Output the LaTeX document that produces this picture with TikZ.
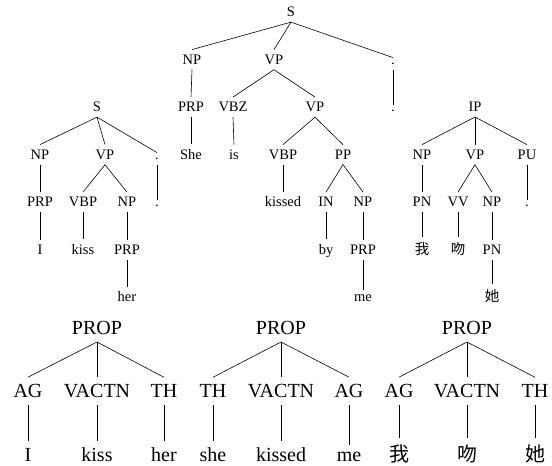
\documentclass[tikz,border=0pt]{standalone}
\usepackage{fontspec}
\setmainfont{Liberation Serif}
\newfontfamily\tms{Liberation Serif}
\newfontfamily\cjk{Noto Sans CJK SC}
\begin{document}
\begin{tikzpicture}[x=1pt,y=-1pt,
  syn/.style={anchor=base, font=\tms\fontsize{14.5}{16}\selectfont, inner sep=5pt},
  sem/.style={anchor=base, font=\tms\fontsize{20}{22}\selectfont, inner sep=7pt},
  edge/.style={line width=0.6pt}]
\useasboundingbox (0,0) rectangle (552,466);

% ---- English passive parse: She is kissed by me .
\node[syn] (mS)      at (291,16.8)  {S};
\node[syn] (mNP)     at (192,64.3)  {NP};
\node[syn] (mVP)     at (274,64.3)  {VP};
\node[syn] (mPu)     at (393,64.3)  {.};
\node[syn] (mPRP)    at (191,111.8) {PRP};
\node[syn] (mVBZ)    at (233,111.8) {VBZ};
\node[syn] (mVPb)    at (315,111.8) {VP};
\node[syn] (mPuW)    at (393,111.8) {.};
\node[syn] (mShe)    at (191,159.3) {She};
\node[syn] (mis)     at (234,159.3) {is};
\node[syn] (mVBP)    at (283,159.3) {VBP};
\node[syn] (mPP)     at (343,159.3) {PP};
\node[syn] (mkissed) at (283,206.8) {kissed};
\node[syn] (mIN)     at (326,206.8) {IN};
\node[syn] (mNPb)    at (363,206.8) {NP};
\node[syn] (mby)     at (326,254.3) {by};
\node[syn] (mPRPb)   at (363,254.3) {PRP};
\node[syn] (mme)     at (363,301.8) {me};

\foreach \a/\b in {mS/mNP, mS/mVP, mS/mPu, mNP/mPRP, mVP/mVBZ, mVP/mVPb,
                   mPu/mPuW, mPRP/mShe, mVBZ/mis, mVPb/mVBP, mVPb/mPP,
                   mVBP/mkissed, mPP/mIN, mPP/mNPb, mIN/mby, mNPb/mPRPb,
                   mPRPb/mme}
  \draw[edge] (\a.south) -- (\b.north);

% ---- English active parse: I kiss her .
\node[syn] (lS)    at (97,111.8)  {S};
\node[syn] (lNP)   at (40,159.3)  {NP};
\node[syn] (lVP)   at (105,159.3) {VP};
\node[syn] (lPu)   at (157,159.3) {.};
\node[syn] (lPRP)  at (40,206.8)  {PRP};
\node[syn] (lVBP)  at (83,206.8)  {VBP};
\node[syn] (lNPb)  at (127,206.8) {NP};
\node[syn] (lPuW)  at (157,206.8) {.};
\node[syn] (lI)    at (40,254.3)  {I};
\node[syn] (lkiss) at (83,254.3)  {kiss};
\node[syn] (lPRPb) at (127,254.3) {PRP};
\node[syn] (lher)  at (127,301.8) {her};

\foreach \a/\b in {lS/lNP, lS/lVP, lS/lPu, lNP/lPRP, lVP/lVBP, lVP/lNPb,
                   lPu/lPuW, lPRP/lI, lVBP/lkiss, lNPb/lPRPb, lPRPb/lher}
  \draw[edge] (\a.south) -- (\b.north);

% ---- Chinese parse
\node[syn] (cIP)   at (475,111.8) {IP};
\node[syn] (cNP)   at (422,159.3) {NP};
\node[syn] (cVP)   at (475,159.3) {VP};
\node[syn] (cPU)   at (527,159.3) {PU};
\node[syn] (cPN)   at (422,206.8) {PN};
\node[syn] (cVV)   at (458,206.8) {VV};
\node[syn] (cNPb)  at (492,206.8) {NP};
\node[syn] (cPuW)  at (527,206.8) {.};
\node[syn] (cwo)   at (422,254.3) {\cjk 我};
\node[syn] (cwen)  at (458,254.3) {\cjk 吻};
\node[syn] (cPNb)  at (492,254.3) {PN};
\node[syn] (cta)   at (492,301.8) {\cjk 她};

\foreach \a/\b in {cIP/cNP, cIP/cVP, cIP/cPU, cNP/cPN, cVP/cVV, cVP/cNPb,
                   cPU/cPuW, cPN/cwo, cVV/cwen, cNPb/cPNb, cPNb/cta}
  \draw[edge] (\a.south) -- (\b.north);

% ---- Proposition structures
\node[sem] (pA)   at (97,334.6)  {PROP};
\node[sem] (pAa)  at (28,397.6)  {AG};
\node[sem] (pAb)  at (97,397.6)  {VACTN};
\node[sem] (pAc)  at (164,397.6) {TH};
\node[sem] (pAx)  at (28,461.6)  {I};
\node[sem] (pAy)  at (97,461.6)  {kiss};
\node[sem] (pAz)  at (164,461.6) {her};

\node[sem] (pB)   at (281,334.6) {PROP};
\node[sem] (pBa)  at (213,397.6) {TH};
\node[sem] (pBb)  at (281,397.6) {VACTN};
\node[sem] (pBc)  at (349,397.6) {AG};
\node[sem] (pBx)  at (213,461.6) {she};
\node[sem] (pBy)  at (281,461.6) {kissed};
\node[sem] (pBz)  at (349,461.6) {me};

\node[sem] (pC)   at (467,334.6) {PROP};
\node[sem] (pCa)  at (399,397.6) {AG};
\node[sem] (pCb)  at (467,397.6) {VACTN};
\node[sem] (pCc)  at (535,397.6) {TH};
\node[sem] (pCx)  at (399,461.6) {\cjk 我};
\node[sem] (pCy)  at (467,461.6) {\cjk 吻};
\node[sem] (pCz)  at (535,461.6) {\cjk 她};

\foreach \p in {A,B,C} {
  \foreach \r/\w in {a/x, b/y, c/z} {
    \draw[edge] (p\p.south) -- (p\p\r.north);
    \draw[edge] (p\p\r.south) -- (p\p\w.north);
  }
}
\end{tikzpicture}
\end{document}
